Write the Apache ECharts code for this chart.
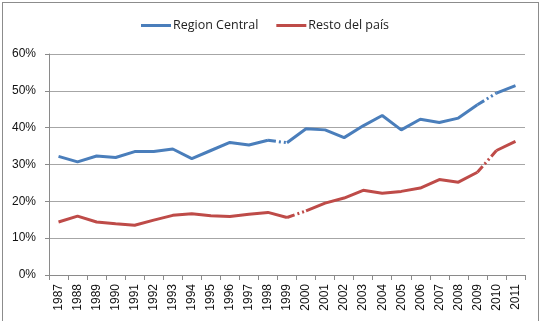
<!DOCTYPE html>
<html>
<head>
<meta charset="utf-8">
<script src="https://cdn.jsdelivr.net/npm/echarts@6/dist/echarts.min.js"></script>
<style>
html,body{margin:0;padding:0;background:#fff;}
#frame{position:absolute;left:2px;top:2px;width:537px;height:330px;border:1px solid #8c8c8c;box-sizing:border-box;}
#chart{position:absolute;left:0;top:0;width:545px;height:321px;}
</style>
</head>
<body>
<div id="frame"></div>
<div id="chart"></div>
<script>
const years = ['1987','1988','1989','1990','1991','1992','1993','1994','1995','1996','1997','1998','1999','2000','2001','2002','2003','2004','2005','2006','2007','2008','2009','2010','2011'];
const regionCentral = [32.2,30.7,32.3,31.9,33.5,33.5,34.2,31.6,33.8,36.0,35.3,36.6,35.9,39.7,39.4,37.3,40.5,43.3,39.4,42.3,41.4,42.6,46.2,49.4,51.4];
const restoPais = [14.4,16.0,14.4,13.9,13.5,14.9,16.2,16.6,16.1,15.9,16.5,17.0,15.6,17.4,19.5,20.9,23.0,22.2,22.7,23.6,25.9,25.2,27.9,33.8,36.3];
// first year of each dashed (estimated) segment
const centralDashed = ['1998','2009'];
const restoDashed = ['1999','2009'];
const yTicks = [0,10,20,30,40,50,60];

const names = ['Region Central','Resto del país'];
const colors = ['#4A7EBB','#BE4B48'];

function segSeries(name, color, values, dashedStarts){
  const dashIdx = dashedStarts.map(y => years.indexOf(y));
  const segs = [];
  let start = 0;
  dashIdx.forEach(d => {
    if (d > start) segs.push({a:start,b:d,dash:false});
    segs.push({a:d,b:d+1,dash:true});
    start = d+1;
  });
  if (start < values.length-1) segs.push({a:start,b:values.length-1,dash:false});
  return segs.map(s => ({
    name: name,
    type: 'line',
    symbol: 'none',
    smooth: false,
    connectNulls: false,
    data: values.map((v,i) => (i>=s.a && i<=s.b) ? v : null),
    lineStyle: {color: color, width: 3, type: s.dash ? [8,3,2,3,2,3] : 'solid', cap: 'butt'},
    itemStyle: {color: color},
    emphasis: {disabled: true},
    silent: true,
    z: 3
  }));
}

const chart = echarts.init(document.getElementById('chart'), null, {renderer:'canvas'});
chart.setOption({
  animation: false,
  backgroundColor: 'transparent',
  textStyle: {fontFamily: 'Liberation Sans'},
  legend: {
    data: names,
    top: 14,
    left: 136,
    itemWidth: 30,
    itemHeight: 3,
    itemGap: 18,
    icon: 'rect',
    textStyle: {fontFamily: 'Open Sans', fontSize: 12.5, color: '#222', padding: [0,0,0,-3]},
    selectedMode: false
  },
  grid: {left: 49, right: 20, top: 54, bottom: 46},
  xAxis: {
    type: 'category',
    data: years,
    boundaryGap: true,
    axisLine: {lineStyle: {color: '#8a8a8a', width: 1}},
    axisTick: {show: true, length: 5, interval: 0, lineStyle: {color: '#8a8a8a'}},
    axisLabel: {rotate: 90, interval: 0, margin: 9, fontSize: 12, color: '#111', fontFamily: 'Liberation Sans'},
    splitLine: {show: false}
  },
  yAxis: {
    type: 'value',
    min: yTicks[0], max: yTicks[yTicks.length-1], interval: 10,
    axisLine: {show: true, lineStyle: {color: '#8a8a8a', width: 1}},
    axisTick: {show: true, length: 4, lineStyle: {color: '#8a8a8a'}},
    axisLabel: {margin: 13, fontSize: 12, color: '#111', fontFamily: 'Liberation Sans', formatter: v => v + '%'},
    splitLine: {lineStyle: {color: '#a6a6a6', width: 1}}
  },
  series: [
    ...segSeries(names[0], colors[0], regionCentral, centralDashed),
    ...segSeries(names[1], colors[1], restoPais, restoDashed)
  ]
});
</script>
</body>
</html>
